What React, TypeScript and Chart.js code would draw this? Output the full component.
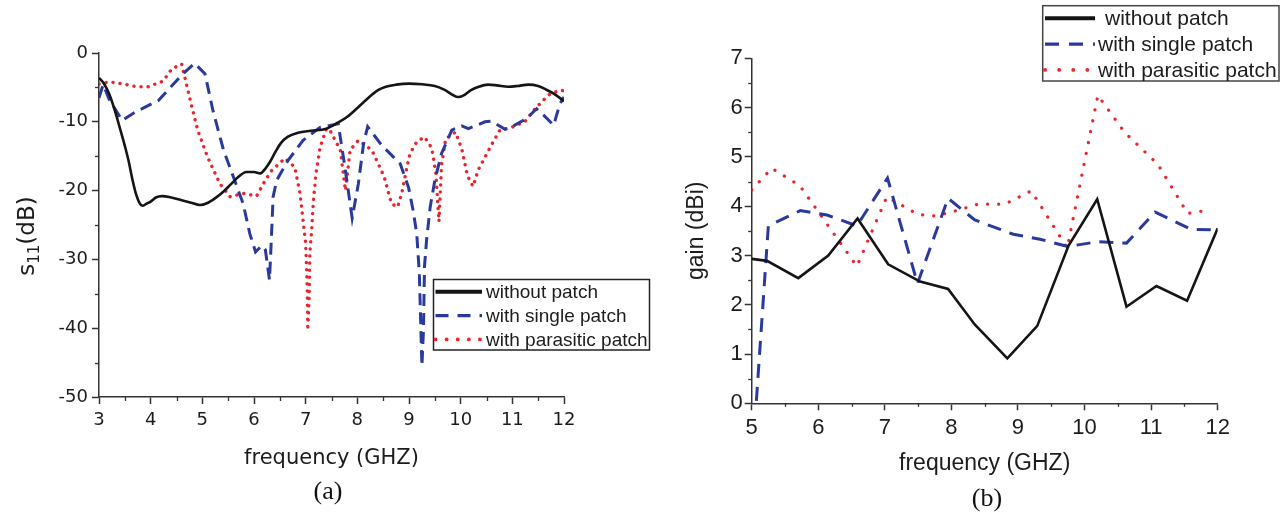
import React, { useEffect, useRef } from 'react';
import { Chart, registerables } from 'chart.js';

Chart.register(...registerables);

// ---------------- Panel (a): S11 ----------------
const s11FreqWithout = [3.0, 3.1, 3.2, 3.3, 3.4, 3.5, 3.57, 3.65, 3.72, 3.8, 3.85, 3.92, 4.0, 4.1, 4.22, 4.4, 4.6, 4.8, 4.95, 5.1, 5.25, 5.4, 5.55, 5.7, 5.85, 6.0, 6.12, 6.22, 6.32, 6.42, 6.52, 6.65, 6.85, 7.1, 7.4, 7.63, 7.8, 8.0, 8.2, 8.4, 8.55, 8.75, 9.0, 9.25, 9.5, 9.7, 9.85, 9.95, 10.05, 10.2, 10.35, 10.53, 10.7, 10.92, 11.1, 11.31, 11.5, 11.65, 11.8, 11.95, 12.0];
const s11Without = [-3.6, -4.5, -6.0, -8.2, -10.8, -13.5, -15.6, -18.5, -20.6, -22.0, -22.2, -21.9, -21.6, -21.0, -20.8, -21.0, -21.4, -21.8, -22.1, -21.8, -21.1, -20.2, -19.1, -18.0, -17.3, -17.3, -17.5, -16.8, -15.7, -14.3, -13.1, -12.2, -11.6, -11.3, -11.0, -10.1, -9.3, -8.0, -6.6, -5.4, -4.9, -4.6, -4.45, -4.55, -4.8, -5.4, -6.1, -6.4, -6.2, -5.4, -4.9, -4.6, -4.7, -4.9, -4.8, -4.6, -4.8, -5.3, -5.9, -6.7, -7.0];

const s11FreqSingle = [3.0, 3.08, 3.2, 3.45, 3.7, 4.15, 4.6, 4.85, 5.05, 5.21, 5.41, 5.6, 5.79, 5.92, 6.03, 6.15, 6.22, 6.3, 6.34, 6.37, 6.44, 6.66, 6.95, 7.28, 7.63, 7.76, 7.9, 8.02, 8.12, 8.2, 8.47, 8.83, 8.99, 9.08, 9.15, 9.2, 9.25, 9.28, 9.3, 9.34, 9.41, 9.5, 9.63, 9.76, 9.83, 10.02, 10.15, 10.47, 10.6, 10.86, 11.02, 11.28, 11.47, 11.6, 11.8, 11.92, 12.0];
const s11Single = [-6.5, -4.6, -6.8, -9.8, -8.6, -6.9, -3.2, -1.5, -3.0, -8.5, -14.1, -18.0, -21.9, -26.3, -28.9, -28.0, -28.6, -33.0, -26.3, -20.9, -18.5, -15.6, -12.7, -10.8, -10.3, -16.6, -24.0, -19.0, -13.2, -10.7, -13.4, -16.1, -19.5, -22.9, -26.3, -32.0, -45.5, -40.3, -31.0, -27.2, -22.4, -18.5, -14.6, -12.4, -11.2, -10.6, -11.0, -10.0, -9.9, -11.1, -10.6, -9.5, -8.1, -9.0, -10.5, -7.4, -6.4];

const s11FreqParasitic = [3.0, 3.2, 3.47, 3.73, 3.95, 4.24, 4.41, 4.6, 4.66, 4.79, 4.91, 5.1, 5.34, 5.54, 5.79, 6.05, 6.18, 6.34, 6.6, 6.79, 6.89, 6.95, 7.0, 7.03, 7.04, 7.07, 7.08, 7.12, 7.15, 7.2, 7.28, 7.4, 7.46, 7.67, 7.77, 7.86, 8.02, 8.28, 8.41, 8.52, 8.66, 8.78, 8.86, 8.96, 9.02, 9.15, 9.3, 9.44, 9.52, 9.58, 9.63, 9.71, 9.9, 10.02, 10.13, 10.24, 10.34, 10.6, 10.76, 10.99, 11.24, 11.44, 11.7, 11.92, 12.0];
const s11Parasitic = [-4.5, -4.2, -4.5, -4.9, -4.9, -4.1, -2.3, -1.6, -3.5, -7.6, -11.2, -15.1, -19.0, -20.9, -20.4, -20.8, -19.0, -17.1, -15.3, -16.6, -20.4, -24.3, -27.7, -34.0, -40.3, -35.0, -29.2, -25.3, -21.4, -17.5, -13.7, -11.0, -11.1, -14.1, -20.0, -14.1, -12.7, -14.1, -16.2, -18.0, -21.9, -22.4, -20.4, -16.6, -14.6, -12.9, -12.2, -13.8, -17.5, -24.5, -16.3, -12.5, -11.5, -13.9, -17.8, -19.4, -17.0, -13.3, -11.2, -10.8, -10.0, -8.1, -6.1, -5.4, -5.5];

// ---------------- Panel (b): gain ----------------
const gainFreqWithout = [5.0, 5.23, 5.7, 6.15, 6.59, 7.05, 7.53, 7.95, 8.35, 8.84, 9.29, 9.76, 10.19, 10.63, 11.08, 11.54, 12.0];
const gainWithout = [2.93, 2.89, 2.54, 3.0, 3.75, 2.82, 2.47, 2.32, 1.6, 0.91, 1.57, 3.2, 4.14, 1.96, 2.38, 2.08, 3.55];

const gainFreqSingle = [5.07, 5.25, 5.73, 6.13, 6.58, 7.04, 7.49, 7.95, 8.35, 8.93, 9.33, 9.75, 10.2, 10.63, 11.06, 11.6, 12.0];
const gainSingle = [0.05, 3.6, 3.91, 3.82, 3.6, 4.57, 2.43, 4.16, 3.72, 3.43, 3.33, 3.18, 3.28, 3.25, 3.88, 3.53, 3.52];

const gainFreqParasitic = [5.0, 5.3, 5.72, 6.15, 6.58, 7.03, 7.5, 7.75, 8.0, 8.4, 8.8, 9.2, 9.74, 10.2, 10.6, 11.1, 11.55, 11.85];
const gainParasitic = [4.33, 4.77, 4.42, 3.6, 2.78, 4.19, 3.83, 3.8, 3.88, 4.04, 4.04, 4.31, 3.15, 6.25, 5.5, 4.85, 3.85, 3.92];

const seriesLabels = ['without patch', 'with single patch', 'with parasitic patch'];

const BLACK = '#151515';
const BLUE = '#2a3a9c';
const RED = '#e8252d';
const AXIS = '#333333';
const TEXT = '#1c1c1c';

const zip = (xs: number[], ys: number[]) => xs.map((x, i) => ({ x, y: ys[i] }));

// minor ticks drawn from the scales
const minorTicksPlugin = {
  id: 'minorTicks',
  afterDraw(chart: any, _args: any, o: any) {
    const { ctx } = chart;
    const xs = chart.scales.x;
    const ys = chart.scales.y;
    ctx.save();
    ctx.strokeStyle = o.color;
    ctx.lineWidth = o.width;
    const isMajor = (v: number, m: number) => Math.abs(v / m - Math.round(v / m)) < 1e-6;
    const nx = Math.round((xs.max - xs.min) / o.xStep);
    for (let i = 0; i <= nx; i++) {
      const v = xs.min + i * o.xStep;
      if (isMajor(v, o.xMajor)) continue;
      const px = Math.round(xs.getPixelForValue(v)) + 0.5;
      ctx.beginPath();
      ctx.moveTo(px, xs.top);
      ctx.lineTo(px, xs.top + o.length);
      ctx.stroke();
    }
    const ny = Math.round((ys.max - ys.min) / o.yStep);
    for (let i = 0; i <= ny; i++) {
      const v = ys.min + i * o.yStep;
      if (isMajor(v, o.yMajor)) continue;
      const py = Math.round(ys.getPixelForValue(v)) + 0.5;
      ctx.beginPath();
      ctx.moveTo(ys.right - o.length, py);
      ctx.lineTo(ys.right, py);
      ctx.stroke();
    }
    ctx.restore();
  },
};

// boxed legend built from the datasets
const boxLegendPlugin = {
  id: 'boxLegend',
  afterDraw(chart: any, _args: any, o: any) {
    const { ctx } = chart;
    ctx.save();
    ctx.fillStyle = '#ffffff';
    ctx.fillRect(o.x, o.y, o.w, o.h);
    ctx.strokeStyle = o.borderColor;
    ctx.lineWidth = o.borderWidth;
    ctx.strokeRect(o.x, o.y, o.w, o.h);
    chart.data.datasets.forEach((ds: any, i: number) => {
      const cy = o.y + o.rowTop + i * o.rowGap;
      ctx.beginPath();
      ctx.setLineDash(o.dashes[i]);
      ctx.lineCap = ds.borderCapStyle || 'butt';
      ctx.lineWidth = o.lineWidths[i];
      ctx.strokeStyle = ds.borderColor;
      ctx.moveTo(o.x + o.lineStart, cy);
      ctx.lineTo(o.x + o.lineEnd, cy);
      ctx.stroke();
      ctx.setLineDash([]);
      ctx.fillStyle = TEXT;
      ctx.font = o.font;
      ctx.textBaseline = 'middle';
      ctx.textAlign = 'left';
      ctx.fillText(ds.label, o.x + o.textX[i], cy + 1);
    });
    ctx.restore();
  },
};

// s11 axis title with subscript
const s11TitlePlugin = {
  id: 's11Title',
  afterDraw(chart: any, _args: any, o: any) {
    if (!o || !o.enabled) return;
    const { ctx } = chart;
    ctx.save();
    ctx.translate(o.cx, o.cy);
    ctx.rotate(-Math.PI / 2);
    ctx.fillStyle = TEXT;
    ctx.textBaseline = 'alphabetic';
    ctx.textAlign = 'left';
    const big = `${o.size}px "DejaVu Sans"`;
    const small = `${o.subSize}px "DejaVu Sans"`;
    ctx.font = big;
    const w1 = ctx.measureText('s').width;
    const w3 = ctx.measureText('(dB)').width;
    ctx.font = small;
    const w2 = ctx.measureText('11').width;
    const total = w1 + w2 + w3;
    let x = -total / 2;
    const base = o.size * 0.36;
    ctx.font = big;
    ctx.fillText('s', x, base);
    x += w1;
    ctx.font = small;
    ctx.fillText('11', x, base + o.subShift);
    x += w2;
    ctx.font = big;
    ctx.fillText('(dB)', x, base);
    ctx.restore();
  },
};

function makeS11Config(): any {
  return {
    type: 'line',
    data: {
      datasets: [
        { label: seriesLabels[0], data: zip(s11FreqWithout, s11Without), borderColor: BLACK, borderWidth: 2.6, pointRadius: 0, cubicInterpolationMode: 'monotone', fill: false },
        { label: seriesLabels[1], data: zip(s11FreqSingle, s11Single), borderColor: BLUE, borderWidth: 3, borderDash: [12, 7], pointRadius: 0, tension: 0, fill: false },
        { label: seriesLabels[2], data: zip(s11FreqParasitic, s11Parasitic), borderColor: RED, borderWidth: 3.4, borderDash: [0.1, 7], borderCapStyle: 'round', pointRadius: 0, tension: 0, fill: false },
      ],
    },
    options: {
      responsive: false,
      animation: false,
      events: [],
      layout: { padding: { top: 53, left: 0, right: 96, bottom: 39 } },
      plugins: {
        legend: { display: false },
        tooltip: { enabled: false },
        minorTicks: { xStep: 0.5, xMajor: 1, yStep: 5, yMajor: 10, length: 4, color: AXIS, width: 1.3 },
        boxLegend: {
          x: 433.5, y: 279.5, w: 216, h: 70.5, rowTop: 12.3, rowGap: 23.8,
          lineStart: 2, lineEnd: 48.5, textX: [52.5, 52.5, 52.5],
          dashes: [[], [13, 9], [0.1, 11]], lineWidths: [4, 3.2, 3.8],
          font: '19px "Liberation Sans"', borderColor: '#222', borderWidth: 1.5,
        },
        s11Title: { enabled: true, cx: 26, cy: 236, size: 23, subSize: 15, subShift: 5 },
      },
      scales: {
        x: {
          type: 'linear', min: 3, max: 12,
          afterFit: (s: any) => { s.height = 80; },
          ticks: { stepSize: 1, autoSkip: false, maxRotation: 0, padding: 6, color: TEXT, font: { family: '"DejaVu Sans"', size: 18 } },
          grid: { display: true, drawOnChartArea: false, drawTicks: true, tickLength: 7, tickColor: AXIS, tickWidth: 1.5 },
          border: { display: true, color: AXIS, width: 1.5 },
          title: { display: true, text: 'frequency (GHZ)', color: TEXT, font: { family: '"DejaVu Sans"', size: 21 }, padding: { top: 0, bottom: 6 } },
        },
        y: {
          type: 'linear', min: -50, max: 0,
          afterFit: (s: any) => { s.width = 99; },
          ticks: { stepSize: 10, autoSkip: false, padding: 4, color: TEXT, font: { family: '"DejaVu Sans"', size: 18 } },
          grid: { display: true, drawOnChartArea: false, drawTicks: true, tickLength: 7, tickColor: AXIS, tickWidth: 1.5 },
          border: { display: true, color: AXIS, width: 1.5 },
          title: { display: false },
        },
      },
    },
    plugins: [minorTicksPlugin, boxLegendPlugin, s11TitlePlugin],
  };
}

function makeGainConfig(): any {
  return {
    type: 'line',
    data: {
      datasets: [
        { label: seriesLabels[0], data: zip(gainFreqWithout, gainWithout), borderColor: BLACK, borderWidth: 2.6, pointRadius: 0, tension: 0, fill: false },
        { label: seriesLabels[1], data: zip(gainFreqSingle, gainSingle), borderColor: BLUE, borderWidth: 3, borderDash: [14, 9], pointRadius: 0, tension: 0, fill: false },
        { label: seriesLabels[2], data: zip(gainFreqParasitic, gainParasitic), borderColor: RED, borderWidth: 3.2, borderDash: [0.1, 11], borderCapStyle: 'round', pointRadius: 0, tension: 0, fill: false },
      ],
    },
    options: {
      responsive: false,
      animation: false,
      events: [],
      layout: { padding: { top: 58.3, left: 0, right: 63.3, bottom: 32.7 } },
      plugins: {
        legend: { display: false },
        tooltip: { enabled: false },
        minorTicks: { xStep: 0.5, xMajor: 1, yStep: 0.5, yMajor: 1, length: 3.5, color: AXIS, width: 1.3 },
        boxLegend: {
          x: 382.7, y: 5.7, w: 236.3, h: 75.3, rowTop: 12.6, rowGap: 25.8,
          lineStart: 2.3, lineEnd: 52.3, textX: [62.3, 55.3, 55.3],
          dashes: [[], [14, 10], [0.1, 14]], lineWidths: [4, 3.2, 3.8],
          font: '21px "Liberation Sans"', borderColor: '#444', borderWidth: 1.5,
        },
      },
      scales: {
        x: {
          type: 'linear', min: 5, max: 12,
          afterFit: (s: any) => { s.height = 80; },
          ticks: { stepSize: 1, autoSkip: false, maxRotation: 0, padding: 4, color: TEXT, font: { family: '"Liberation Sans"', size: 22 } },
          grid: { display: true, drawOnChartArea: false, drawTicks: true, tickLength: 7, tickColor: AXIS, tickWidth: 1.5 },
          border: { display: true, color: AXIS, width: 1.5 },
          title: { display: true, text: 'frequency (GHZ)', color: TEXT, font: { family: '"Liberation Sans"', size: 23 }, padding: { top: 0, bottom: 5.5 } },
        },
        y: {
          type: 'linear', min: 0, max: 7,
          afterFit: (s: any) => { s.width = 91.7; },
          ticks: { stepSize: 1, autoSkip: false, padding: 2, color: TEXT, font: { family: '"Liberation Sans"', size: 22 } },
          grid: { display: true, drawOnChartArea: false, drawTicks: true, tickLength: 7, tickColor: AXIS, tickWidth: 1.5 },
          border: { display: true, color: AXIS, width: 1.5 },
          title: { display: true, text: 'gain (dBi)', color: TEXT, font: { family: '"Liberation Sans"', size: 23 }, padding: { top: 23, bottom: 0 } },
        },
      },
    },
    plugins: [minorTicksPlugin, boxLegendPlugin],
  };
}

function ChartCanvas({ width, height, left, makeConfig }: { width: number; height: number; left: number; makeConfig: () => any }) {
  const ref = useRef<HTMLCanvasElement | null>(null);
  useEffect(() => {
    if (!ref.current) return;
    const chart = new Chart(ref.current, makeConfig());
    return () => chart.destroy();
  }, [makeConfig]);
  return (
    <canvas
      ref={ref}
      width={width}
      height={height}
      style={{ position: 'absolute', left, top: 0, width, height, display: 'block' }}
    />
  );
}

export default function App() {
  const caption: React.CSSProperties = {
    position: 'absolute',
    width: 100,
    height: 30,
    lineHeight: '30px',
    textAlign: 'center',
    fontFamily: '"Liberation Serif", "Times New Roman", serif',
    fontSize: 26,
    color: '#111',
  };
  return (
    <div style={{ position: 'absolute', left: 0, top: 0, width: 1281, height: 516, background: '#fff', overflow: 'hidden' }}>
      <ChartCanvas width={660} height={516} left={0} makeConfig={makeS11Config} />
      <ChartCanvas width={621} height={516} left={660} makeConfig={makeGainConfig} />
      <div style={{ ...caption, left: 278, top: 476 }}>(a)</div>
      <div style={{ ...caption, left: 937, top: 483 }}>(b)</div>
    </div>
  );
}
